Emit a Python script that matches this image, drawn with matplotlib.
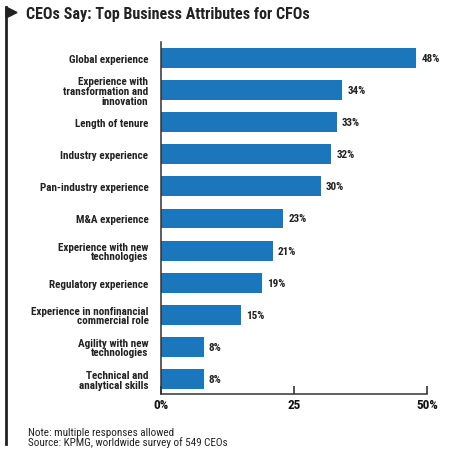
import matplotlib
matplotlib.use('Agg')
import matplotlib.pyplot as plt
from matplotlib.lines import Line2D
from matplotlib.patches import Polygon

# data
attributes = ['Global experience',
              'Experience with\ntransformation and\ninnovation',
              'Length of tenure',
              'Industry experience',
              'Pan-industry experience',
              'M&A experience',
              'Experience with new\ntechnologies',
              'Regulatory experience',
              'Experience in nonfinancial\ncommercial role',
              'Agility with new\ntechnologies',
              'Technical and\nanalytical skills']
shares = [48, 34, 33, 32, 30, 23, 21, 19, 15, 8, 8]
tick_vals = [0, 25, 50]
tick_labels = ['0%', '25', '50%']

plt.rcParams['font.family'] = ['Roboto Condensed', 'DejaVu Sans']

W, H = 450, 456
fig = plt.figure(figsize=(W / 100, H / 100), dpi=100)
ax = fig.add_axes([161 / W, 1 - 395 / H, 266 / W, 352 / H])

bar_col = '#1b76bc'
pos = list(range(len(shares)))
ax.barh(pos, shares, height=0.62, color=bar_col)
for p, v in zip(pos, shares):
    ax.text(v + 1.0, p, f'{v}%', va='center', ha='left', fontsize=8,
            fontweight='bold', color='#222222')

ax.set_xlim(0, 50)
ax.set_ylim(10.47, -0.5)
ax.set_yticks(pos)
ax.set_yticklabels(attributes, fontsize=8, fontweight='bold',
                   color='#222222', linespacing=0.95)
ax.tick_params(axis='y', length=0, pad=9)
ax.set_xticks(tick_vals)
ax.set_xticklabels(tick_labels, fontsize=9.5, fontweight='bold', color='#111111')
ax.tick_params(axis='x', direction='in', length=6, width=1.2, color='#333333', pad=3)
for s in ['top', 'right']:
    ax.spines[s].set_visible(False)
for s in ['left', 'bottom']:
    ax.spines[s].set_linewidth(1.1)
    ax.spines[s].set_color('#333333')

# title and the flag marker on the left edge
fig.add_artist(Line2D([5.5 / W, 5.5 / W], [1 - 8 / H, 1 - 445 / H],
                      transform=fig.transFigure, color='#222222', lw=2))
fig.add_artist(Polygon([(6 / W, 1 - 8 / H), (6 / W, 1 - 19 / H), (17 / W, 1 - 13.5 / H)],
                       closed=True, transform=fig.transFigure, color='#222222'))
fig.text(26 / W, 1 - 14 / H, 'CEOs Say: Top Business Attributes for CFOs',
         fontsize=11.5, fontweight='bold', va='center', ha='left', color='#222222')

fig.text(28 / W, 1 - 433 / H, 'Note: multiple responses allowed',
         fontsize=8, va='center', ha='left', color='#222222')
fig.text(28 / W, 1 - 443 / H, 'Source: KPMG, worldwide survey of 549 CEOs',
         fontsize=8, va='center', ha='left', color='#222222')

fig.savefig('out.png', dpi=100, facecolor='white')
